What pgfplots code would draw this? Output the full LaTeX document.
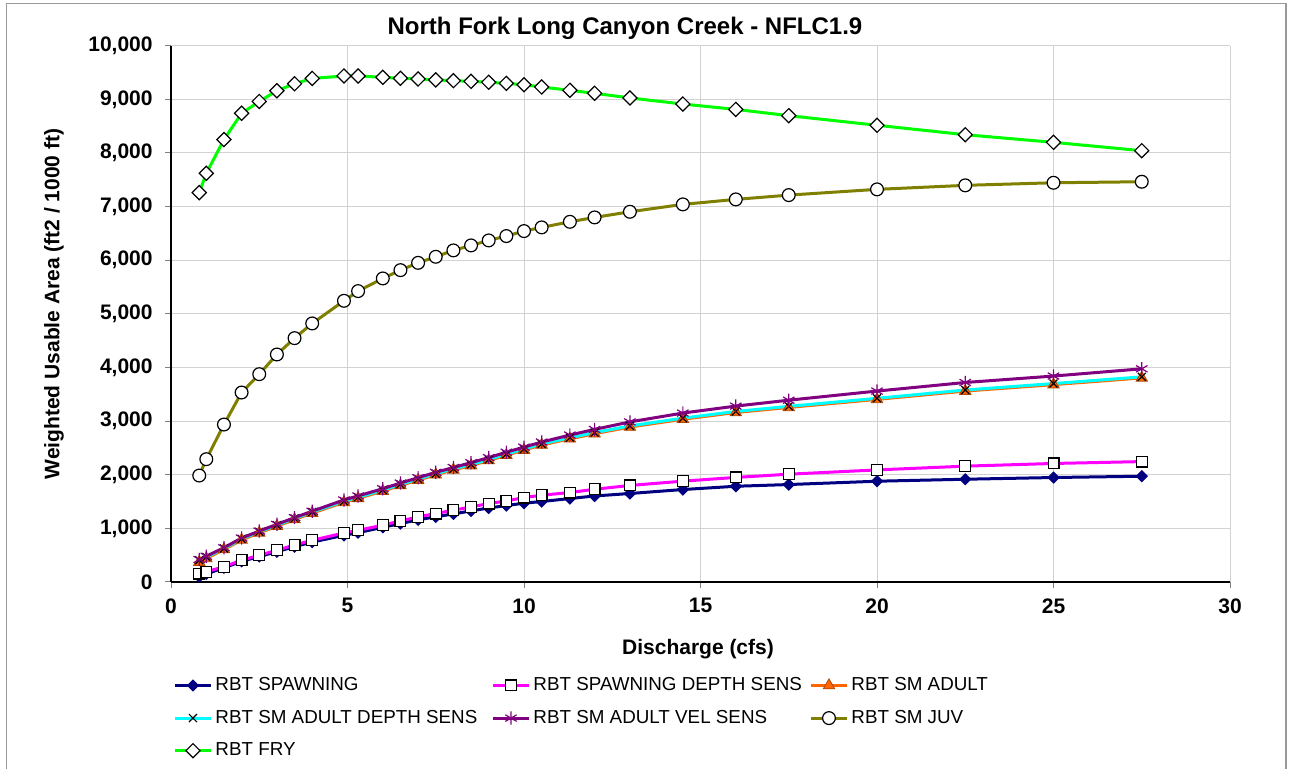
\documentclass[border=0pt]{standalone}
\usepackage{fontspec}
\setmainfont{Liberation Sans}
\usepackage{pgfplots}
\pgfplotsset{compat=1.18}
\definecolor{cNavy}{RGB}{0,0,128}
\definecolor{cMag}{RGB}{255,0,255}
\definecolor{cOrange}{RGB}{255,102,0}
\definecolor{cCyan}{RGB}{0,255,255}
\definecolor{cPurple}{RGB}{128,0,128}
\definecolor{cOlive}{RGB}{128,128,0}
\definecolor{cGreen}{RGB}{0,255,0}
\definecolor{cGrid}{RGB}{210,210,210}
\pgfplotstableread{
x spawn spawnds adult adultds adultvs juv fry
0.8  100  156  370  405  420  1985 7260
1    150  190  440  465  480  2290 7620
1.5  265  285  605  625  640  2936 8250
2    385  405  785  805  820  3533 8740
2.5  475  498  915  935  950  3875 8960
3    565  591  1040 1060 1075 4242 9160
3.5  660  690  1165 1185 1200 4547 9290
4    745  778  1285 1305 1320 4821 9390
4.9  870  914  1485 1505 1530 5243 9435
5.3  920  964  1560 1580 1605 5424 9435
6    1020 1058 1695 1715 1740 5660 9410
6.5  1090 1138 1800 1820 1845 5815 9392
7    1160 1213 1900 1920 1945 5951 9380
7.5  1215 1276 2000 2020 2045 6064 9362
8    1270 1338 2090 2110 2135 6183 9348
8.5  1325 1399 2170 2190 2225 6276 9335
9    1380 1463 2265 2285 2320 6369 9318
9.5  1425 1511 2365 2385 2420 6450 9298
10   1470 1575 2460 2480 2515 6543 9272
10.5 1500 1618 2555 2575 2610 6612 9230
11.3 1556 1668 2670 2690 2740 6716 9168
12   1604 1729 2765 2785 2845 6798 9112
13   1650 1800 2890 2910 2985 6903 9026
14.5 1724 1880 3035 3055 3150 7041 8912
16   1785 1950 3160 3180 3280 7134 8812
17.5 1817 2010 3255 3275 3390 7214 8695
20   1879 2090 3405 3425 3560 7321 8516
22.5 1916 2160 3560 3580 3720 7396 8340
25   1948 2210 3680 3700 3840 7444 8198
27.5 1972 2245 3805 3825 3975 7463 8042
}\datatable
\begin{document}
\begin{tikzpicture}[x=1pt,y=1pt]
\useasboundingbox (0,0) rectangle (645,384.5);
\draw[gray!80, line width=0.7pt] (3.3,-2) -- (3.3,382.8) -- (643,382.8) -- (643,-2);
\begin{axis}[
  at={(85.5pt,93.5pt)}, anchor=south west,
  scale only axis, width=529.5pt, height=268.15pt,
  xmin=0, xmax=30, ymin=0, ymax=10000,
  xtick={0,5,...,30}, ytick={0,1000,...,10000},
  scaled y ticks=false,
  axis x line*=bottom, axis y line*=left,
  axis line style={black, line width=0.6pt, -},
  grid=major, grid style={cGrid, line width=0.5pt},
  tick align=outside, major tick length=3pt,
  tick style={gray, line width=0.5pt},
  /pgf/number format/.cd, fixed, precision=0, 1000 sep={,}, assume math mode=true,
  /pgfplots/.cd,
  ticklabel style={font=\bfseries\fontsize{10.5}{12}\selectfont},
  yticklabel style={inner sep=0pt, xshift=-6pt},
  xticklabel style={inner sep=0pt, yshift=-5pt},
  clip=false,
  every axis plot/.append style={line width=1.5pt},
  legend columns=3,
  legend image code/.code={\draw[mark repeat=2,mark phase=2,#1] plot coordinates {(0pt,0pt) (9pt,0pt) (18pt,0pt)};},
  legend style={draw=none, fill=none, at={(axis description cs:-0.0037,-0.168)}, anchor=north west,
    font=\fontsize{9.4}{11}\selectfont, row sep=7.3pt, column sep=1.5pt,
    nodes={inner sep=0pt, text height=7pt, text depth=2pt}},
  legend cell align=left,
]
\addplot[color=cNavy, mark=square*, mark size=1.95pt, mark options={rotate=45, fill=cNavy, draw=cNavy, line width=0.5pt, solid}] table[x=x,y=spawn]{\datatable};
\addlegendentry{\makebox[136.5pt][l]{RBT SPAWNING}}
\addplot[color=cMag, mark=square*, mark size=2.7pt, mark options={fill=white, draw=black, line width=0.6pt, solid}] table[x=x,y=spawnds]{\datatable};
\addlegendentry{\makebox[136.5pt][l]{RBT SPAWNING DEPTH SENS}}
\addplot[color=cOrange, mark=triangle*, mark size=3.3pt, mark options={fill=cOrange, draw=cOrange!70!black, line width=0.4pt, solid}] table[x=x,y=adult]{\datatable};
\addlegendentry{\makebox[136.5pt][l]{RBT SM ADULT}}
\addplot[color=cCyan, mark=x, mark size=2.8pt, mark options={draw=black, line width=0.6pt, solid}] table[x=x,y=adultds]{\datatable};
\addlegendentry{\makebox[136.5pt][l]{RBT SM ADULT DEPTH SENS}}
\addplot[color=cPurple, mark=asterisk, mark size=3.3pt, mark options={draw=cPurple, line width=0.6pt, solid}] table[x=x,y=adultvs]{\datatable};
\addlegendentry{\makebox[136.5pt][l]{RBT SM ADULT VEL SENS}}
\addplot[color=cOlive, mark=*, mark size=3.2pt, mark options={fill=white, draw=black, line width=0.6pt, solid}] table[x=x,y=juv]{\datatable};
\addlegendentry{\makebox[136.5pt][l]{RBT SM JUV}}
\addplot[color=cGreen, mark=square*, mark size=2.5pt, mark options={rotate=45, fill=white, draw=black, line width=0.6pt, solid}] table[x=x,y=fry]{\datatable};
\addlegendentry{\makebox[136.5pt][l]{RBT FRY}}
\end{axis}
\node[font=\bfseries\fontsize{12}{14}\selectfont] at (312.5,370.5) {North Fork Long Canyon Creek - NFLC1.9};
\node[font=\bfseries\fontsize{10.5}{12}\selectfont] at (349,60) {Discharge (cfs)};
\node[font=\bfseries\fontsize{10.5}{12}\selectfont, rotate=90] at (27,232.5) {Weighted Usable Area (ft2 / 1000 ft)};
\end{tikzpicture}
\end{document}
